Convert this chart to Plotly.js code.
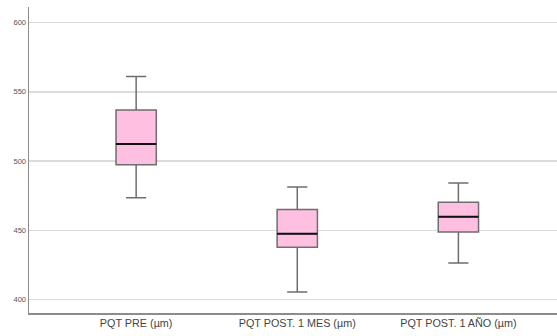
<!DOCTYPE html>
<html><head><meta charset="utf-8">
<script src="https://cdn.plot.ly/plotly-3.0.1.min.js"></script>
<style>html,body{margin:0;padding:0;background:#fff}#chart{width:557px;height:336px}</style>
</head><body><div id="chart"></div>
<script>
const categories = ["PQT PRE (µm)", "PQT POST. 1 MES (µm)", "PQT POST. 1 AÑO (µm)"];
const lowerWhisker = [473.5, 405.4, 426.4];
const q1 = [497.3, 437.7, 448.7];
const median = [512.3, 447.5, 459.8];
const q3 = [536.8, 465.1, 470.2];
const upperWhisker = [561.0, 481.2, 484.1];
const yTicks = [400, 450, 500, 550, 600];

const pos = categories.map((c, i) => i);
const boxW = 0.25;

const traces = [{
  type: 'box',
  x: pos,
  q1: q1, median: median, q3: q3,
  lowerfence: lowerWhisker, upperfence: upperWhisker,
  width: boxW,
  whiskerwidth: 0.5,
  fillcolor: '#ffbfe0',
  line: {color: '#6e6e6e', width: 1.5},
  hoverinfo: 'skip',
  showlegend: false
}];
// median lines in black
const mx = [], my = [];
pos.forEach((p, i) => { mx.push(p - boxW/2, p + boxW/2, null); my.push(median[i], median[i], null); });
traces.push({type: 'scatter', mode: 'lines', x: mx, y: my, line: {color: '#111', width: 2}, hoverinfo: 'skip', showlegend: false});

const layout = {
  width: 557, height: 336,
  margin: {l: 28.5, r: 0, t: 7, b: 23},
  paper_bgcolor: '#fff', plot_bgcolor: '#fff',
  font: {family: 'Liberation Sans, Arial, sans-serif', color: '#333'},
  xaxis: {
    range: [-0.665, 2.612], tickvals: pos, ticktext: categories,
    showgrid: false, zeroline: false, showline: true, linecolor: '#8c8c8c', linewidth: 1.5,
    ticks: '', tickfont: {size: 10.8, color: '#444'}
  },
  yaxis: {
    range: [390.3, 611.2], tickvals: yTicks,
    showgrid: true, gridcolor: '#dcdcdc', gridwidth: 1.5, zeroline: false,
    showline: true, linecolor: '#8c8c8c', linewidth: 1.5,
    ticks: '', tickfont: {size: 7.5, color: '#555'}
  }
};
Plotly.newPlot('chart', traces, layout, {staticPlot: true});
</script></body></html>
